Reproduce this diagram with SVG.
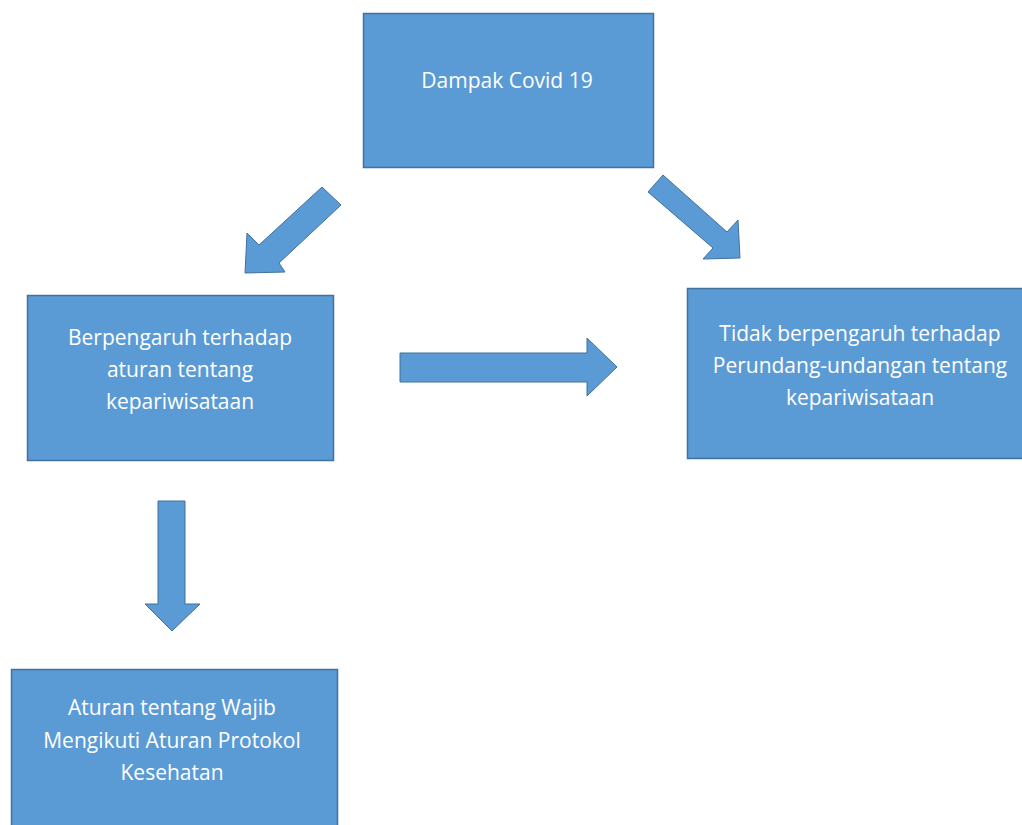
<svg xmlns="http://www.w3.org/2000/svg" width="1022" height="825" viewBox="0 0 1022 825">
<style>
.box{fill:#5B9BD5;stroke:#41719C;stroke-width:1.5}
.arr{fill:#5B9BD5;stroke:#41719C;stroke-width:1}
.t{font-family:"Open Sans","Liberation Sans",sans-serif;font-size:21px;fill:#ffffff;text-anchor:middle}
</style>
<rect width="1022" height="825" fill="#ffffff"/>
<g id="n1"><rect class="box" x="363.5" y="13.5" width="290" height="154"/>
<text class="t" x="507" y="88">Dampak Covid 19</text></g>
<g id="n2"><rect class="box" x="27.5" y="295.5" width="306" height="165"/>
<text class="t" x="180" y="345">Berpengaruh terhadap</text>
<text class="t" x="180" y="377">aturan tentang</text>
<text class="t" x="180" y="409">kepariwisataan</text></g>
<g id="n3"><rect class="box" x="687.5" y="288.5" width="340" height="170"/>
<text class="t" x="860" y="341">Tidak berpengaruh terhadap</text>
<text class="t" x="860" y="373">Perundang-undangan tentang</text>
<text class="t" x="860" y="405">kepariwisataan</text></g>
<g id="n4"><rect class="box" x="11.5" y="669.5" width="326" height="170"/>
<text class="t" x="172" y="715">Aturan tentang Wajib</text>
<text class="t" x="172" y="748">Mengikuti Aturan Protokol</text>
<text class="t" x="172" y="780">Kesehatan</text></g>
<g id="connectors">
<polygon class="arr" points="322,187 341,205 279,263 285,272 245,273 247,233 259,245"/>
<polygon class="arr" points="663,175 727,232 738,220 740,258 703,259 713,248 648,192"/>
<polygon class="arr" points="400,353 587,353 587,338 617,367 587,396 587,382 400,382"/>
<polygon class="arr" points="158,501 185,501 185,604 200,604 172,631 145,604 158,604"/>
</g>
</svg>
